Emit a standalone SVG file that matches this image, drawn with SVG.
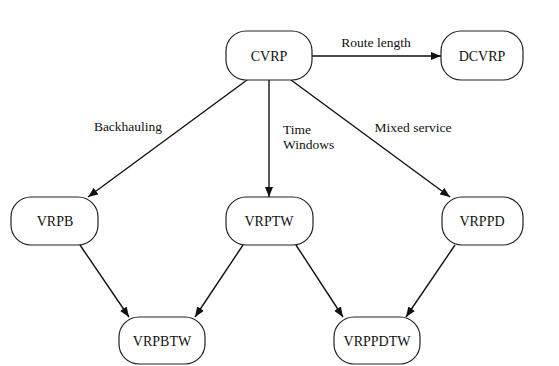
<svg xmlns="http://www.w3.org/2000/svg" width="559" height="366" viewBox="0 0 559 366">
<style>
.node rect{fill:#fff;stroke:#222;stroke-width:1.2}
.node text{font-size:14px;fill:#111;text-anchor:middle}
.edge{stroke:#111;stroke-width:1.4;fill:none;marker-end:url(#ah)}
.lbl{font-size:13.5px;fill:#111}
text{font-family:'Liberation Serif','Times New Roman',Times,serif}
</style>
<defs>
<marker id="ah" viewBox="0 0 10 8" refX="10" refY="4" markerWidth="10" markerHeight="8" markerUnits="userSpaceOnUse" orient="auto">
<path d="M0,0 L10,4 L0,8 Z" fill="#111"/>
</marker>
</defs>
<rect width="559" height="366" fill="#fff"/>
<g id="connectors" font-family="Liberation Serif, serif">
<line class="edge" x1="312" y1="56" x2="441" y2="56"/>
<line class="edge" x1="247" y1="80" x2="88" y2="197"/>
<line class="edge" x1="269" y1="80" x2="269" y2="197"/>
<line class="edge" x1="291" y1="80" x2="450" y2="197"/>
<line class="edge" x1="80" y1="245" x2="129" y2="317"/>
<line class="edge" x1="243" y1="245" x2="195" y2="317"/>
<line class="edge" x1="296" y1="245" x2="343" y2="317"/>
<line class="edge" x1="455" y1="245" x2="406" y2="317"/>
<text class="lbl" x="376" y="47" text-anchor="middle">Route length</text>
<text class="lbl" x="128" y="131" text-anchor="middle">Backhauling</text>
<text class="lbl" x="283" y="134">Time</text>
<text class="lbl" x="283" y="149">Windows</text>
<text class="lbl" x="413" y="132" text-anchor="middle">Mixed service</text>
</g>
<g id="CVRP" class="node"><rect x="226" y="31" width="86" height="49" rx="20"/><text x="269" y="61">CVRP</text></g>
<g id="DCVRP" class="node"><rect x="441" y="31" width="82" height="49" rx="20"/><text x="482" y="61">DCVRP</text></g>
<g id="VRPB" class="node"><rect x="11" y="197" width="87" height="48" rx="20"/><text x="55" y="226">VRPB</text></g>
<g id="VRPTW" class="node"><rect x="226" y="197" width="87" height="48" rx="20"/><text x="269" y="226">VRPTW</text></g>
<g id="VRPPD" class="node"><rect x="442" y="197" width="81" height="48" rx="20"/><text x="482" y="226">VRPPD</text></g>
<g id="VRPBTW" class="node"><rect x="119" y="317" width="86" height="47" rx="20"/><text x="162" y="346">VRPBTW</text></g>
<g id="VRPPDTW" class="node"><rect x="334" y="317" width="86" height="47" rx="20"/><text x="377" y="346">VRPPDTW</text></g>
</svg>
